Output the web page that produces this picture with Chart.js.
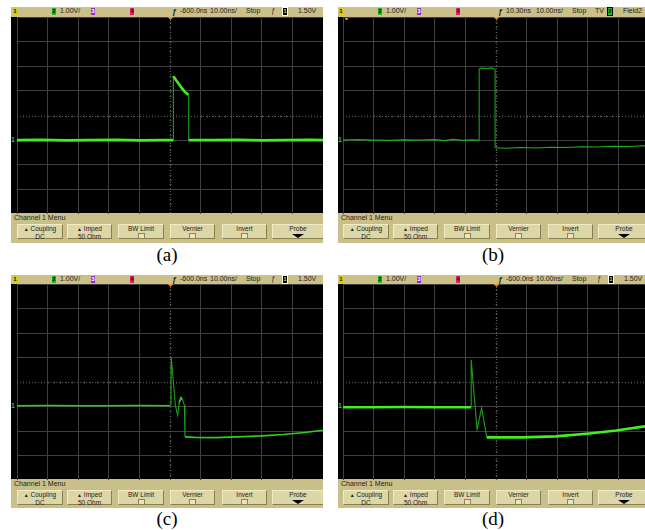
<!DOCTYPE html>
<html>
<head>
<meta charset="utf-8">
<script src="https://cdn.jsdelivr.net/npm/chart.js@4/dist/chart.umd.min.js"></script>
<style>
body{margin:0;width:645px;height:530px;background:#fff;position:relative;overflow:hidden;font-family:"Liberation Sans",Arial,sans-serif}
.scope{position:absolute;background:#000;overflow:hidden}
.bar{position:absolute;left:0;right:0;top:0;background:#cbc188}
.bar .t{position:absolute;top:0;font-size:7px;color:#222;white-space:nowrap}
.bar .box{position:absolute;top:1px;width:4px;font-size:6px;line-height:7px;text-align:center;font-weight:bold;color:#111}
.menu{position:absolute;left:0;right:0;background:#c9bf88}
.menu .lbl{position:absolute;left:3px;top:1px;font-size:7px;color:#222}
.btn{position:absolute;top:11px;height:13px;background:#ddd6a6;border:1px solid;border-color:#f1ebc6 #867f52 #867f52 #f1ebc6;font-size:6.5px;line-height:7px;text-align:center;color:#222}
.chk{display:inline-block;width:5px;height:4px;background:#ebe5ba;border:1px solid #8c8559;margin-top:1px}
.plot{position:absolute}
.cap{position:absolute;font-family:"Liberation Serif","Times New Roman",serif;font-size:19px;color:#000;transform:translateX(-50%)}
</style>
</head>
<body>
<script>
// time in us (10 us/div), volts (1 V/div)
const ticksX = [-50, -40, -30, -20, -10, 0, 10, 20, 30, 40, 50];
const ticksY = [-4, -3, -2, -1, 0, 1, 2, 3, 4];

// (a) single pulse with decaying top
const tA = [-50, -42, -34, -26, -18, -10, -2, 1.1, 1.1, 2.0, 3.0, 4.0, 4.7, 5.4, 6.1, 6.1, 14, 22, 30, 38, 46, 50];
const vA = [-1.0, -0.99, -1.01, -1.0, -0.99, -1.01, -1.0, -1.0, 1.6, 1.43, 1.26, 1.09, 0.98, 0.9, 0.85, -1.0, -1.0, -0.99, -1.01, -1.0, -0.99, -1.0];

// (b) square pulse, lower level afterwards
const tB = [-50, -45, -40, -35, -30, -25, -20, -17, -14, -11, -8, -5.5, -5.5, -4.5, -3, -1.5, -0.3, -0.3, 3, 8, 13, 18, 23, 28, 33, 38, 43, 48, 50];
const vB = [-1.0, -0.98, -1.0, -1.01, -0.99, -1.0, -0.98, -1.02, -0.97, -1.01, -0.99, -1.0, 1.9, 1.93, 1.91, 1.93, 1.89, -1.31, -1.33, -1.3, -1.32, -1.29, -1.3, -1.27, -1.28, -1.25, -1.26, -1.23, -1.24];

// (c) spike, ringing, then slow recovery
const tC = [-50, -40, -30, -20, -10, 0, 0.3, 0.4, 1.75, 2.5, 3.0, 3.6, 4.1, 4.7, 4.9, 8, 15, 22, 30, 37, 44, 50];
const vC = [-0.97, -0.96, -0.97, -0.97, -0.96, -0.97, -0.97, 1.02, -0.95, -1.36, -0.85, -0.64, -0.72, -0.95, -2.24, -2.26, -2.27, -2.24, -2.2, -2.14, -2.06, -1.97];

// (d) earlier spike, curved recovery
const tD = [-50, -40, -30, -20, -10, -8.1, -8.1, -6.2, -4.7, -3.0, 0, 8.7, 19.6, 30.5, 39.3, 48.6, 50];
const vD = [-1.03, -1.03, -1.02, -1.03, -1.03, -1.03, 0.91, -1.93, -1.06, -2.26, -2.26, -2.26, -2.22, -2.1, -1.98, -1.81, -1.78];

const panels = [
  {t: tA, v: vA, left: 11, top: 7, barH: 10, plotH: 196, menuH: 30, gridL: 6, cap: '(a)', capY: 244, color: '#3ff01e', width: 2.6, tv: false},
  {t: tB, v: vB, left: 338, top: 7, barH: 10, plotH: 196, menuH: 30, gridL: 5, cap: '(b)', capY: 244, color: '#22b01e', width: 1.1, tv: true},
  {t: tC, v: vC, left: 11, top: 275, barH: 9, plotH: 195, menuH: 29, gridL: 6, cap: '(c)', capY: 508, color: '#33cc22', width: 1.6, tv: false},
  {t: tD, v: vD, left: 338, top: 275, barH: 9, plotH: 195, menuH: 29, gridL: 5, cap: '(d)', capY: 508, color: '#44ee22', width: 2.6, tv: false}
];
const gridW = 306;

const graticule = {
  id: 'graticule',
  beforeDatasetsDraw(chart) {
    const {ctx, chartArea: a, scales: {x, y}} = chart;
    const cx = Math.round(x.getPixelForValue(0)) + 0.5;
    const cy = Math.round(y.getPixelForValue(0)) + 0.5;
    ctx.save();
    ctx.strokeStyle = '#5c5c5c';
    ctx.lineWidth = 1;
    ctx.setLineDash([1, 2]);
    ctx.beginPath();
    ctx.moveTo(cx, a.top); ctx.lineTo(cx, a.bottom);
    ctx.moveTo(a.left, cy); ctx.lineTo(a.right, cy);
    ctx.stroke();
    ctx.setLineDash([]);
    ctx.strokeStyle = '#4a4a4a';
    ctx.beginPath();
    for (let t = x.min; t <= x.max; t += 2) {
      const px = Math.round(x.getPixelForValue(t)) + 0.5;
      ctx.moveTo(px, cy - 1); ctx.lineTo(px, cy + 1);
    }
    for (let v = y.min; v <= y.max + 0.001; v += 0.2) {
      const py = Math.round(y.getPixelForValue(v)) + 0.5;
      ctx.moveTo(cx - 1, py); ctx.lineTo(cx + 1, py);
    }
    ctx.stroke();
    // trigger marker
    ctx.fillStyle = '#f08a1c';
    ctx.beginPath();
    ctx.moveTo(cx - 3, a.top); ctx.lineTo(cx + 3, a.top); ctx.lineTo(cx, a.top + 3);
    ctx.fill();
    ctx.restore();
  }
};

function steep(c) {
  const dx = Math.abs(c.p1.x - c.p0.x), dy = Math.abs(c.p1.y - c.p0.y);
  return dy > 4 && dy > 3 * dx;
}

function el(parent, cls, css, html) {
  const d = document.createElement('div');
  if (cls) d.className = cls;
  Object.assign(d.style, css || {});
  if (html !== undefined) d.innerHTML = html;
  parent.appendChild(d);
  return d;
}

function topBar(bar, p) {
  const g = p.gridL - 6;
  el(bar, 'box', {left: (2 + g) + 'px', background: '#d8d000'}, '1');
  el(bar, 'box', {left: (41 + g) + 'px', background: '#16c016'}, '2');
  el(bar, 't', {left: (49 + g) + 'px'}, '1.00V/');
  el(bar, 'box', {left: (80 + g) + 'px', background: '#8a30c8', color: '#fff'}, '3');
  el(bar, 'box', {left: (119 + g) + 'px', background: '#e0206a'}, '4');
  el(bar, 't', {left: (161 + g) + 'px', fontStyle: 'italic', fontWeight: 'bold', fontSize: '8px'}, 'ƒ');
  el(bar, 't', {left: (169 + g) + 'px'}, p.tv ? '10.30ns' : '-600.0ns');
  el(bar, 't', {left: (199 + g) + 'px'}, '10.00ns/');
  el(bar, 't', {left: (235 + g) + 'px'}, 'Stop');
  if (p.tv) {
    el(bar, 't', {left: (258 + g) + 'px'}, 'TV');
    el(bar, 'box', {left: (271 + g) + 'px', background: '#16c016', outline: '1px solid #000'}, '2');
    el(bar, 't', {left: (286 + g) + 'px'}, 'Field2');
  } else {
    el(bar, 't', {left: (260 + g) + 'px', fontStyle: 'italic'}, 'ƒ');
    el(bar, 'box', {left: (272 + g) + 'px', background: '#000', color: '#dd0', outline: '1px solid #fff'}, '1');
    el(bar, 't', {left: (287 + g) + 'px'}, '1.50V');
  }
}

function menuBar(menu, p) {
  el(menu, 'lbl', {}, 'Channel 1 Menu');
  const offs = [0, 50, 101, 153, 205, 255];
  const wids = [44, 43, 44, 43, 43, 50];
  const chk = '<span class="chk"></span>';
  const labels = [
    '<span style="font-size:5px">&#9650;</span> Coupling<br>DC',
    '<span style="font-size:5px">&#9650;</span> Imped<br>50 Ohm',
    'BW Limit<br>' + chk,
    'Vernier<br>' + chk,
    'Invert<br>' + chk,
    'Probe<br><span style="display:inline-block;width:0;height:0;border-left:6px solid transparent;border-right:6px solid transparent;border-top:4px solid #000;margin-top:1px"></span>'
  ];
  labels.forEach((h, i) => {
    el(menu, 'btn', {left: (p.gridL + offs[i]) + 'px', width: wids[i] + 'px'}, h);
  });
}

panels.forEach(p => {
  const h = p.barH + p.plotH + p.menuH;
  const sc = el(document.body, 'scope', {left: p.left + 'px', top: p.top + 'px', width: (p.gridL + gridW) + 'px', height: h + 'px'});
  const bar = el(sc, 'bar', {height: p.barH + 'px'});
  topBar(bar, p);
  const menu = el(sc, 'menu', {top: (p.barH + p.plotH) + 'px', height: p.menuH + 'px'});
  menuBar(menu, p);
  // channel 1 ground marker
  el(sc, '', {position: 'absolute', left: '0px', top: (p.barH + p.plotH * 5 / 8 - 4) + 'px', color: '#2c2', fontSize: '7px', fontWeight: 'bold'}, '1&#8594;');
  if (p.tv) el(sc, '', {position: 'absolute', left: (p.gridL + 2) + 'px', top: p.barH + 'px', width: '3px', height: '3px', background: '#f08a1c', borderRadius: '2px'});
  const wrap = el(sc, 'plot', {left: p.gridL + 'px', top: p.barH + 'px', width: gridW + 'px', height: (p.plotH + 1) + 'px'});
  const cv = document.createElement('canvas');
  wrap.appendChild(cv);
  el(document.body, 'cap', {left: (p.left + p.gridL + 150) + 'px', top: p.capY + 'px'}, p.cap);

  new Chart(cv, {
    type: 'line',
    data: {
      datasets: [{
        data: p.t.map((x, i) => ({x: x, y: p.v[i]})),
        borderColor: p.color,
        borderWidth: p.width,
        pointRadius: 0,
        tension: 0,
        segment: {
          borderWidth: c => steep(c) ? 1.1 : p.width,
          borderColor: c => steep(c) ? '#1f9e1a' : p.color
        }
      }]
    },
    options: {
      responsive: true,
      maintainAspectRatio: false,
      animation: false,
      layout: {padding: 0},
      plugins: {legend: {display: false}, tooltip: {enabled: false}},
      scales: {
        x: {
          type: 'linear', min: ticksX[0], max: ticksX[ticksX.length - 1],
          afterBuildTicks: s => { s.ticks = ticksX.map(v => ({value: v})); },
          ticks: {display: false, padding: 0},
          grid: {color: c => c.tick && c.tick.value === 0 ? 'rgba(0,0,0,0)' : '#404040', drawTicks: false},
          border: {display: false}
        },
        y: {
          type: 'linear', min: ticksY[0], max: ticksY[ticksY.length - 1],
          afterBuildTicks: s => { s.ticks = ticksY.map(v => ({value: v})); },
          ticks: {display: false, padding: 0},
          grid: {color: c => c.tick && c.tick.value === 0 ? 'rgba(0,0,0,0)' : '#404040', drawTicks: false},
          border: {display: false}
        }
      }
    },
    plugins: [graticule]
  });
});
</script>
</body>
</html>
